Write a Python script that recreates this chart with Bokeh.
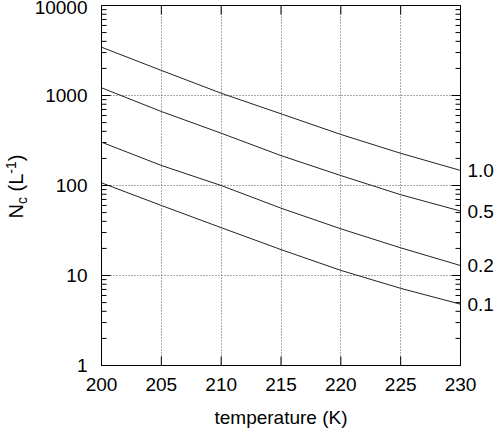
import math
from bokeh.plotting import figure
from bokeh.layouts import row
from bokeh.models import FixedTicker, LogAxis
from bokeh.embed import file_html
from bokeh.resources import INLINE
from bokeh.core.properties import value

# ---------------- data ----------------
temperature = [200, 205, 210, 215, 220, 225, 230]
nc_w10 = [3440, 1900, 1060, 626, 369, 228, 147]
nc_w05 = [1218, 664, 381, 215, 129, 79, 52]
nc_w02 = [303, 167, 100, 56, 33, 20.3, 12.9]
nc_w01 = [107, 60, 34, 19.4, 11.4, 7.2, 4.8]
series = [nc_w10, nc_w05, nc_w02, nc_w01]
series_labels = ["1.0", "0.5", "0.2", "0.1"]

x_ticks = [200, 205, 210, 215, 220, 225, 230]
y_ticks = [1, 10, 100, 1000, 10000]
y_tick_labels = ["1", "10", "100", "1000", "10000"]
y_minor = [m * d for d in [1, 10, 100, 1000] for m in range(2, 10)]

FONT = "Liberation Sans"
FS = "19px"
LW = 30           # width of the y-label strip
W, H = 497, 432
LEFT, RIGHT, TOP, BOT = 101, 37, 5, 67   # frame borders in the page
FW = W - LEFT - RIGHT
FH = H - TOP - BOT

# ---------------- main figure ----------------
p = figure(width=W - LW, height=H, y_axis_type="log",
           x_range=(x_ticks[0], x_ticks[-1]), y_range=(y_ticks[0], y_ticks[-1]),
           output_backend="svg", toolbar_location=None,
           min_border_left=LEFT - LW, min_border_right=RIGHT,
           min_border_top=TOP, min_border_bottom=BOT)
p.background_fill_color = "white"
p.border_fill_color = "white"
p.outline_line_color = "black"
p.outline_line_width = 1


def style_axis(ax, ticker):
    ax.ticker = ticker
    ax.major_tick_in = 0
    ax.major_tick_out = 0
    ax.minor_tick_in = 0
    ax.minor_tick_out = 0
    ax.axis_line_color = "black"
    ax.major_label_text_font = FONT
    ax.major_label_text_font_size = FS
    ax.major_label_text_color = "black"


xt = FixedTicker(ticks=x_ticks, minor_ticks=[])
yt = FixedTicker(ticks=y_ticks, minor_ticks=y_minor)

xa = p.xaxis[0]
style_axis(xa, xt)
xa.major_label_standoff = 12
xa.axis_label = "temperature (K)"
xa.axis_label_text_font = FONT
xa.axis_label_text_font_size = FS
xa.axis_label_text_font_style = "normal"
xa.axis_label_text_color = "black"
xa.axis_label_standoff = 13

ya = p.yaxis[0]
style_axis(ya, yt)
ya.major_label_standoff = 14
ya.major_label_overrides = {t: s for t, s in zip(y_ticks, y_tick_labels)}

# right axis used for the curve labels
ends = [s[-1] for s in series]
right = LogAxis()
style_axis(right, FixedTicker(ticks=ends, minor_ticks=[]))
right.major_label_standoff = 7
right.major_label_overrides = {e: l for e, l in zip(ends, series_labels)}
p.add_layout(right, "right")

for g in (p.xgrid[0], p.ygrid[0]):
    g.grid_line_color = "#555555"
    g.grid_line_dash = "1 2"
    g.grid_line_width = 1
p.xgrid[0].ticker = xt
p.ygrid[0].ticker = yt

# inward ticks on all four sides (pixel lengths converted to data units)
x0, x1 = x_ticks[0], x_ticks[-1]
y0, y1 = y_ticks[0], y_ticks[-1]
dx_px = (x1 - x0) / FW                               # K per pixel
dlog_px = (math.log10(y1) - math.log10(y0)) / FH     # decades per pixel
MAJ, MIN = 9, 5
TC = "black"


def hticks(vals, length):
    fx = length * dx_px
    p.segment(x0=[x0] * len(vals), y0=vals, x1=[x0 + fx] * len(vals), y1=vals,
              line_color=TC, line_width=1)
    p.segment(x0=[x1] * len(vals), y0=vals, x1=[x1 - fx] * len(vals), y1=vals,
              line_color=TC, line_width=1)


hticks(y_ticks, MAJ)
hticks(y_minor, MIN)
fy = 10 ** (MAJ * dlog_px)
p.segment(x0=x_ticks, y0=[y0] * len(x_ticks), x1=x_ticks, y1=[y0 * fy] * len(x_ticks),
          line_color=TC, line_width=1)
p.segment(x0=x_ticks, y0=[y1] * len(x_ticks), x1=x_ticks, y1=[y1 / fy] * len(x_ticks),
          line_color=TC, line_width=1)

for s in series:
    p.line(temperature, s, line_color="#222222", line_width=1)

# ---------------- y-label strip ----------------
lab = figure(width=LW, height=H, x_range=(0, LW), y_range=(BOT, H - TOP),
             output_backend="svg", toolbar_location=None,
             x_axis_location=None, y_axis_location=None,
             min_border_left=0, min_border_right=0,
             min_border_top=TOP, min_border_bottom=BOT)
lab.outline_line_color = None
lab.grid.visible = False
lab.background_fill_color = "white"
lab.border_fill_color = "white"

# (text, font size, baseline x, start y measured from the top)
pieces = [
    ("N", "20px", 15, 218.0),
    ("c", "14px", 21.5, 203.6),
    ("(L", "20px", 15, 191.0),
    ("-1", "14px", 10.5, 173.2),
    (")", "20px", 15, 160.7),
]
for txt, fs, bx, sy in pieces:
    lab.text(x=[bx], y=[H - sy], text=[txt], angle=math.pi / 2,
             text_font=value(FONT), text_font_size=fs, text_color="black",
             text_align="left", text_baseline="alphabetic")

layout = row(lab, p, spacing=0)
open("out.html", "w").write(file_html(layout, INLINE))
